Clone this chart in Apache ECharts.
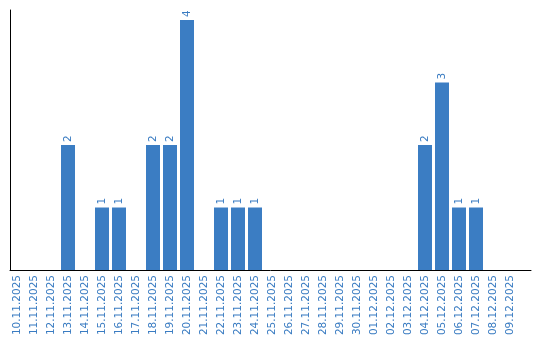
<!DOCTYPE html>
<html><head><meta charset="utf-8">
<script src="https://cdn.jsdelivr.net/npm/echarts@6/dist/echarts.min.js"></script>
<style>html,body{margin:0;padding:0;background:#fff}#c{width:540px;height:340px}</style>
</head><body><div id="c"></div>
<script>
const categories = ["10.11.2025","11.11.2025","12.11.2025","13.11.2025","14.11.2025","15.11.2025","16.11.2025","17.11.2025","18.11.2025","19.11.2025","20.11.2025","21.11.2025","22.11.2025","23.11.2025","24.11.2025","25.11.2025","26.11.2025","27.11.2025","28.11.2025","29.11.2025","30.11.2025","01.12.2025","02.12.2025","03.12.2025","04.12.2025","05.12.2025","06.12.2025","07.12.2025","08.12.2025","09.12.2025"];
const values = [0,0,0,2,0,1,1,0,2,2,4,0,1,1,1,0,0,0,0,0,0,0,0,0,2,3,1,1,0,0];
const yMax = 4;

const blue = '#3b7dc3';
const labelBlue = '#3a7cc2';
const chart = echarts.init(document.getElementById('c'), null, {renderer:'canvas'});
chart.setOption({
  animation:false,
  grid:[
    {left:8.5, top:20, width:510, height:250},
    {left:10, top:10, right:9, bottom:70}
  ],
  xAxis:[
    {type:'category', gridIndex:0, data:categories, boundaryGap:true,
     axisLine:{show:false}, axisTick:{show:false},
     axisLabel:{rotate:90, interval:0, margin:5, color:labelBlue, fontFamily:'DejaVu Sans', fontSize:10.5}},
    {type:'value', gridIndex:1, min:0, max:1, axisLine:{show:true, lineStyle:{color:'#000', width:1}},
     axisTick:{show:false}, axisLabel:{show:false}, splitLine:{show:false}}
  ],
  yAxis:[
    {type:'value', gridIndex:0, min:0, max:yMax, show:false, splitLine:{show:false}},
    {type:'value', gridIndex:1, min:0, max:1, axisLine:{show:true, lineStyle:{color:'#000', width:1}},
     axisTick:{show:false}, axisLabel:{show:false}, splitLine:{show:false}}
  ],
  series:[{
    type:'bar', xAxisIndex:0, yAxisIndex:0, data:values, barWidth:14,
    itemStyle:{color:blue},
    label:{show:true, position:'top', rotate:90, align:'left', verticalAlign:'middle', distance:3,
      color:labelBlue, fontFamily:'DejaVu Sans', fontSize:10.5,
      formatter:p=>p.value===0?'':String(p.value)}
  }]
});
</script></body></html>
